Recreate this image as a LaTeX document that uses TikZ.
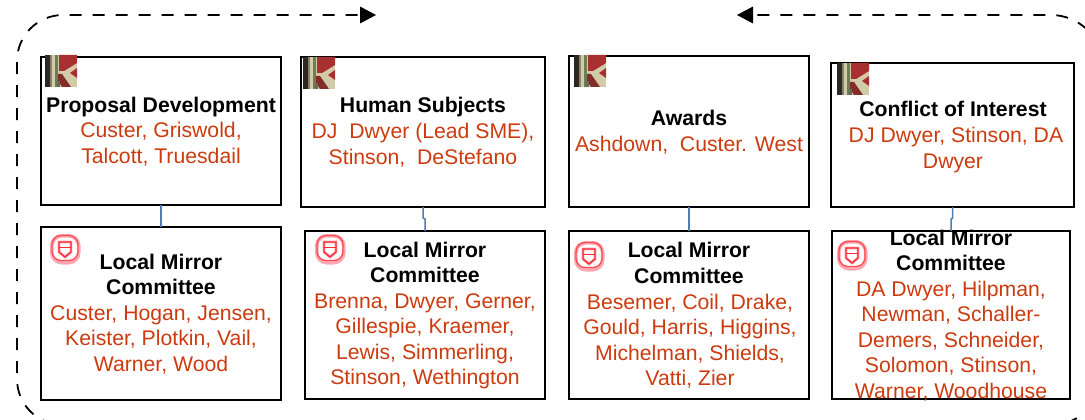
\documentclass[tikz,border=0pt]{standalone}
\usepackage{fontspec}
\setmainfont{Liberation Sans}
\usetikzlibrary{arrows.meta}
\definecolor{nameRed}{HTML}{CC3A0E}
\definecolor{linkBlue}{HTML}{4A7EBB}
\definecolor{iconRed}{HTML}{FF2A38}
\definecolor{iconPink}{HTML}{FFA8B0}
\definecolor{kDark}{HTML}{2E2620}
\definecolor{kBeige}{HTML}{D2CBA8}
\definecolor{kRed}{HTML}{A83030}
\newcommand{\kicon}[2]{%
  \begin{scope}[shift={(#1,#2)}]
    \fill[kBeige] (0,0) rectangle (32,32);
    \fill[kDark] (0,0) rectangle (5,32);
    \fill[kDark!45!kBeige] (5,0) rectangle (7,32);
    \fill[kBeige!85!green!60!black] (10,0) rectangle (13,32);
    \fill[kRed] (13,0) -- (32,0) -- (32,8) -- (19,16) -- (14,16) -- (14,0) -- cycle;
    \fill[kRed] (32,13) -- (25,18) -- (32,23) -- cycle;
    \fill[kRed!70!kDark] (13,19) -- (17,19) -- (26,32) -- (17,32) -- (13,26) -- cycle;
    \fill[kDark!60!kBeige] (12,26) rectangle (15,32);
  \end{scope}}
\newcommand{\micon}[2]{%
  \begin{scope}[shift={(#1,#2)}]
    \draw[iconPink,line width=3.6pt,rounded corners=10pt] (1.8,1.8) rectangle (28.7,28.7);
    \draw[iconRed!85!white,line width=1.3pt,rounded corners=9pt] (2,1.5) rectangle (28,26.5);
    \draw[iconPink,line width=2.8pt] (9,8) -- (21,8) -- (21,18) -- (15,23) -- (9,18) -- cycle;
    \draw[iconRed,line width=1.3pt] (9,8) -- (21,8) -- (21,18) -- (15,23) -- (9,18) -- cycle;
    \draw[iconRed,line width=1.3pt] (9,13.5) -- (21,13.5);
  \end{scope}}
\tikzset{
  x=1pt,y=-1pt,
  box/.style={draw=black,line width=1.8pt,inner sep=0pt,outer sep=0pt},
  head/.style={font=\fontsize{21.2}{25.6}\selectfont\bfseries,align=center,text=black,inner sep=0pt},
  names/.style={font=\fontsize{21.2}{25.6}\selectfont,align=center,text=nameRed,inner sep=0pt},
  link/.style={draw=linkBlue,line width=1.5pt},
  loopline/.style={line width=1.8pt,dash pattern=on 12pt off 11pt}
}
\newcommand{\boxat}[5]{\node[box,minimum width=#4pt-#2pt,minimum height=#5pt-#3pt,anchor=north west] (#1) at (#2,#3) {};}
\begin{document}
\begin{tikzpicture}
\useasboundingbox (0,0) rectangle (1085,420);
% outer dashed loop
\coordinate (tipL) at (362,15);
\coordinate (tipR) at (751,15);
\coordinate (cTL) at (17,15);
\coordinate (cBL) at (17,425);
\coordinate (cBR) at (1103,425);
\coordinate (cTR) at (1103,15);
\coordinate (startB) at (560,425);
\begin{scope}
\clip (0,0) rectangle (1085,420);
\draw[loopline,rounded corners=46pt] (startB) -- (cBL) -- (cTL) -- (tipL);
\draw[loopline,rounded corners=52pt] (startB) -- (cBR) -- (cTR) -- (tipR);
\end{scope}
\path[fill=black] (360,6.5) -- (376,15) -- (360,23.5) -- cycle;
\path[fill=black] (753,6.5) -- (737,15) -- (753,23.5) -- cycle;
% boxes
\boxat{a1}{41}{57}{281}{205}
\boxat{a2}{301}{57}{545}{207}
\boxat{a3}{569}{56}{809}{207}
\boxat{a4}{831}{63}{1074}{207}
\boxat{b1}{41}{227}{281}{400}
\boxat{b2}{305}{231}{545}{399}
\boxat{b3}{569}{231}{809}{399}
\boxat{b4}{832}{231}{1070}{399}
% connectors
\draw[link] (a1.south) -- (b1.north);
\draw[link] (a2.south) -- ++(0,11) -- ++(2,1) -| (b2.north);
\draw[link] (a3.south) -- (b3.north);
\draw[link] (a4.south) -- ++(0,11) -- ++(-1,1) -| (b4.north);
% icons
\kicon{45}{55} \kicon{303}{57} \kicon{574}{55} \kicon{837}{63}
\micon{50}{234} \micon{315}{234} \micon{574}{241} \micon{837}{240}
% text top
\node[head,anchor=base] (t1) at (161,112) {Proposal Development};
\node[names,anchor=north] (n1) at (161,122) {Custer, Griswold,\\Talcott, Truesdail};
\node[head,anchor=base] (t2) at (423,113) {Human Subjects};
\node[names,anchor=north] (n2) at (423,123) {DJ\ \ Dwyer (Lead SME),\\Stinson,\ \ DeStefano};
\node[head,anchor=base] (t3) at (689,125.5) {Awards};
\node[names,anchor=north] (n3) at (689,136) {Ashdown,\ \ Custer. West};
\node[head,anchor=base] (t4) at (953,117) {Conflict of Interest};
\node[names,anchor=north] (n4) at (953,127) {\hspace*{5.9pt}DJ Dwyer, Stinson, DA\\Dwyer};
% text bottom
\node[head,anchor=north] (u1) at (161,253.5) {Local Mirror\\Committee};
\node[names,anchor=north] (v1) at (161,305) {Custer, Hogan, Jensen,\\Keister, Plotkin, Vail,\\Warner, Wood};
\node[head,anchor=north] (u2) at (425,241.5) {Local Mirror\\Committee};
\node[names,anchor=north] (v2) at (425,293) {Brenna, Dwyer, Gerner,\\Gillespie, Kraemer,\\Lewis, Simmerling,\\Stinson, Wethington};
\node[head,anchor=north] (u3) at (689,242) {Local Mirror\\Committee};
\node[names,anchor=north] (v3) at (690,293.5) {Besemer, Coil, Drake,\\Gould, Harris, Higgins,\\Michelman, Shields,\\Vatti, Zier};
\node[head,anchor=north] (u4) at (951,229.5) {Local Mirror\\Committee};
\node[names,anchor=north] (v4) at (951,280.5) {DA Dwyer, Hilpman,\\Newman, Schaller-\\Demers, Schneider,\\Solomon, Stinson,\\Warner, Woodhouse};
\end{tikzpicture}
\end{document}
